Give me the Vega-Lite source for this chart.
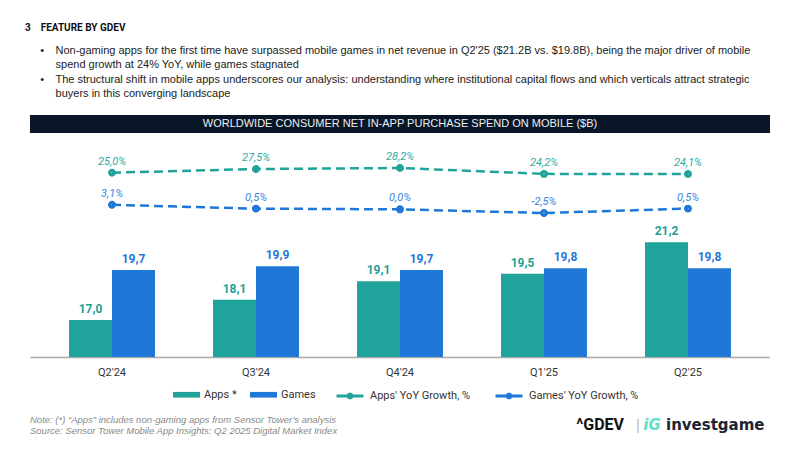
{
  "$schema": "https://vega.github.io/schema/vega-lite/v6.json",
  "background": "white",
  "padding": {"left": 25, "top": 23, "right": 0, "bottom": 0},
  "config": {
    "view": {"stroke": null},
    "locale": {"number": {"decimal": ",", "thousands": ".", "grouping": [3], "currency": ["", " €"], "minus": "-"}}
  },
  "title": {
    "text": "3\u00a0\u00a0\u00a0\u00a0FEATURE BY GDEV",
    "subtitle": [
      "\u200b\u00a0\u00a0\u00a0\u00a0\u00a0•\u00a0\u00a0\u00a0\u2009Non-gaming apps for the first time have surpassed mobile games in net revenue in Q2'25 ($21.2B vs. $19.8B), being the major driver of mobile",
      "\u200b\u00a0\u00a0\u00a0\u00a0\u00a0\u00a0\u00a0\u00a0\u00a0\u00a0spend growth at 24% YoY, while games stagnated",
      "\u200b\u00a0\u00a0\u00a0\u00a0\u00a0•\u00a0\u00a0\u00a0\u2009The structural shift in mobile apps underscores our analysis: understanding where institutional capital flows and which verticals attract strategic",
      "\u200b\u00a0\u00a0\u00a0\u00a0\u00a0\u00a0\u00a0\u00a0\u00a0\u00a0buyers in this converging landscape"
    ],
    "anchor": "start",
    "dx": -5,
    "font": "Roboto",
    "fontSize": 10,
    "fontWeight": "bold",
    "color": "#111111",
    "subtitleFont": "Liberation Sans, Arial, sans-serif",
    "subtitleFontSize": 11,
    "subtitleColor": "#222222",
    "subtitleLineHeight": 14.3,
    "subtitlePadding": 12,
    "offset": 16
  },
  "resolve": {"scale": {"color": "independent", "fill": "independent", "stroke": "independent"}, "legend": {"color": "independent", "fill": "independent", "stroke": "independent"}},
  "spacing": 7,
  "datasets": {
    "bars": [
      {"quarter": "Q2'24", "series": "Apps *", "value": 17.0},
      {"quarter": "Q2'24", "series": "Games", "value": 19.7},
      {"quarter": "Q3'24", "series": "Apps *", "value": 18.1},
      {"quarter": "Q3'24", "series": "Games", "value": 19.9},
      {"quarter": "Q4'24", "series": "Apps *", "value": 19.1},
      {"quarter": "Q4'24", "series": "Games", "value": 19.7},
      {"quarter": "Q1'25", "series": "Apps *", "value": 19.5},
      {"quarter": "Q1'25", "series": "Games", "value": 19.8},
      {"quarter": "Q2'25", "series": "Apps *", "value": 21.2},
      {"quarter": "Q2'25", "series": "Games", "value": 19.8}
    ],
    "growth": [
      {"quarter": "Q2'24", "series": "Apps' YoY Growth, %", "growth": 0.250},
      {"quarter": "Q3'24", "series": "Apps' YoY Growth, %", "growth": 0.275},
      {"quarter": "Q4'24", "series": "Apps' YoY Growth, %", "growth": 0.282},
      {"quarter": "Q1'25", "series": "Apps' YoY Growth, %", "growth": 0.242},
      {"quarter": "Q2'25", "series": "Apps' YoY Growth, %", "growth": 0.241},
      {"quarter": "Q2'24", "series": "Games' YoY Growth, %", "growth": 0.031},
      {"quarter": "Q3'24", "series": "Games' YoY Growth, %", "growth": 0.005},
      {"quarter": "Q4'24", "series": "Games' YoY Growth, %", "growth": 0.000},
      {"quarter": "Q1'25", "series": "Games' YoY Growth, %", "growth": -0.025},
      {"quarter": "Q2'25", "series": "Games' YoY Growth, %", "growth": 0.005}
    ]
  },
  "vconcat": [
    {
      "width": 740,
      "height": 18,
      "view": {"fill": "#081628", "stroke": null},
      "data": {"values": [{"label": "WORLDWIDE CONSUMER NET IN-APP PURCHASE SPEND ON MOBILE ($B)"}]},
      "mark": {"type": "text", "color": "#eeeeee", "font": "Liberation Sans, Arial, sans-serif", "fontSize": 11, "baseline": "middle", "align": "center"},
      "encoding": {"text": {"field": "label"}}
    },
    {
      "width": 740,
      "height": 217,
      "encoding": {
        "x": {
          "field": "quarter", "type": "nominal", "sort": null, "title": null,
          "scale": {"domain": ["Q2'24", "Q3'24", "Q4'24", "Q1'25", "Q2'25"], "paddingInner": 0.403, "paddingOuter": 0.271},
          "axis": {"labelFont": "Roboto", "labelFontSize": 11, "labelColor": "#333333", "labelAngle": 0, "ticks": false, "tickSize": 0, "labelPadding": 9, "domainColor": "#aaaaaa", "domainWidth": 1.5, "grid": false}
        }
      },
      "resolve": {"scale": {"y": "independent"}},
      "layer": [
        {
          "data": {"name": "bars"},
          "mark": {"type": "bar"},
          "encoding": {
            "xOffset": {"field": "series", "type": "nominal", "scale": {"domain": ["Apps *", "Games"], "paddingInner": 0, "paddingOuter": 0}},
            "y": {"field": "value", "type": "quantitative", "scale": {"domain": [15, 26.73], "zero": false, "nice": false, "clamp": true}, "axis": null},
            "fill": {
              "field": "series", "type": "nominal",
              "scale": {"domain": ["Apps *", "Games"], "range": ["#20a39a", "#1f77d8"]},
              "legend": {
                "orient": "none", "legendX": 143, "legendY": 241, "direction": "horizontal", "title": null,
                "symbolType": "M-1,-0.21H1V0.21H-1Z", "symbolSize": 729, "symbolStrokeWidth": 0,
                "labelFont": "Roboto", "labelFontSize": 11, "labelColor": "#333333", "labelOffset": 4, "columnPadding": 13
              }
            }
          }
        },
        {
          "data": {"name": "bars"},
          "mark": {"type": "text", "font": "Roboto", "fontWeight": "bold", "fontSize": 12, "baseline": "bottom", "dy": -4},
          "encoding": {
            "xOffset": {"field": "series", "type": "nominal", "scale": {"domain": ["Apps *", "Games"], "paddingInner": 0, "paddingOuter": 0}},
            "y": {"field": "value", "type": "quantitative", "scale": {"domain": [15, 26.73], "zero": false, "nice": false, "clamp": true}, "axis": null},
            "text": {"field": "value", "type": "quantitative", "format": ".1f"},
            "color": {"field": "series", "type": "nominal", "legend": null, "scale": {"domain": ["Apps *", "Games", "Apps' YoY Growth, %", "Games' YoY Growth, %"], "range": ["#1f9f96", "#1f77d8", "#2faaa0", "#3585df"]}}
          }
        },
        {
          "data": {"name": "growth"},
          "mark": {"type": "line", "strokeWidth": 2.5, "strokeDash": [9, 5]},
          "encoding": {
            "y": {"field": "growth", "type": "quantitative", "scale": {"domain": [-1.007, 0.473], "zero": false, "nice": false}, "axis": null},
            "stroke": {
              "field": "series", "type": "nominal",
              "scale": {"domain": ["Apps' YoY Growth, %", "Games' YoY Growth, %"], "range": ["#20a39a", "#1f77d8"]},
              "legend": {
                "orient": "none", "legendX": 305, "legendY": 241, "direction": "horizontal", "title": null,
                "symbolType": "M-1,0H1M0.14,0L0.099,0.099L0,0.14L-0.099,0.099L-0.14,0L-0.099,-0.099L0,-0.14L0.099,-0.099Z",
                "symbolSize": 729, "symbolStrokeWidth": 3, "symbolDash": [],
                "labelFont": "Roboto", "labelFontSize": 11, "labelColor": "#333333", "labelOffset": 5, "columnPadding": 19
              }
            }
          }
        },
        {
          "data": {"name": "growth"},
          "mark": {"type": "point", "filled": false, "size": 12, "strokeWidth": 4.5, "opacity": 1},
          "encoding": {
            "y": {"field": "growth", "type": "quantitative", "scale": {"domain": [-1.007, 0.473], "zero": false, "nice": false}, "axis": null},
            "stroke": {
              "field": "series", "type": "nominal",
              "scale": {"domain": ["Apps' YoY Growth, %", "Games' YoY Growth, %"], "range": ["#20a39a", "#1f77d8"]},
              "legend": {
                "orient": "none", "legendX": 305, "legendY": 241, "direction": "horizontal", "title": null,
                "symbolType": "M-1,0H1M0.14,0L0.099,0.099L0,0.14L-0.099,0.099L-0.14,0L-0.099,-0.099L0,-0.14L0.099,-0.099Z",
                "symbolSize": 729, "symbolStrokeWidth": 3, "symbolDash": [],
                "labelFont": "Roboto", "labelFontSize": 11, "labelColor": "#333333", "labelOffset": 5, "columnPadding": 19
              }
            }
          }
        },
        {
          "data": {"name": "growth"},
          "mark": {"type": "text", "font": "Roboto", "fontStyle": "italic", "fontSize": 11, "baseline": "bottom", "dy": -6},
          "encoding": {
            "y": {"field": "growth", "type": "quantitative", "scale": {"domain": [-1.007, 0.473], "zero": false, "nice": false}, "axis": null},
            "text": {"field": "growth", "type": "quantitative", "format": ".1%"},
            "color": {"field": "series", "type": "nominal", "legend": null, "scale": {"domain": ["Apps *", "Games", "Apps' YoY Growth, %", "Games' YoY Growth, %"], "range": ["#1f9f96", "#1f77d8", "#2faaa0", "#3585df"]}}
          }
        }
      ]
    },
    {
      "spacing": 74,
      "bounds": "flush",
      "hconcat": [
        {
          "width": 520,
          "height": 1,
          "data": {"values": [{"t": ""}]},
          "mark": {"type": "text"},
          "encoding": {"text": {"field": "t"}},
          "title": {
            "text": "Note: (*) “Apps” includes non-gaming apps from Sensor Tower’s analysis",
            "subtitle": "Source: Sensor Tower Mobile App Insights: Q2 2025 Digital Market Index",
            "orient": "bottom",
            "anchor": "start",
            "offset": -8,
            "font": "Liberation Sans, Arial, sans-serif",
            "fontSize": 9.5,
            "fontStyle": "italic",
            "fontWeight": "normal",
            "color": "#8a8a8a",
            "subtitleFont": "Liberation Sans, Arial, sans-serif",
            "subtitleFontSize": 9.5,
            "subtitleFontStyle": "italic",
            "subtitleColor": "#8a8a8a",
            "subtitlePadding": 2
          }
        },
        {
          "width": 42,
          "height": 16,
          "encoding": {
            "x": {"field": "part", "type": "nominal", "sort": null, "axis": null, "scale": {"type": "point", "domain": ["^GDEV", "|", "iG", "investgame"], "padding": 0}},
            "text": {"field": "part"}
          },
          "layer": [
            {
              "data": {"values": [{"part": "^GDEV"}]},
              "mark": {"type": "text", "align": "right", "baseline": "middle", "font": "Roboto", "fontWeight": "bold", "fontSize": 16, "color": "#111111"}
            },
            {
              "data": {"values": [{"part": "|"}]},
              "mark": {"type": "text", "align": "center", "baseline": "middle", "font": "Liberation Sans, sans-serif", "fontSize": 15, "color": "#bbbbbb"}
            },
            {
              "data": {"values": [{"part": "iG"}]},
              "mark": {"type": "text", "align": "center", "baseline": "middle", "font": "DejaVu Sans, sans-serif", "fontStyle": "italic", "fontWeight": "bold", "fontSize": 15, "color": "#5fe0c4"}
            },
            {
              "data": {"values": [{"part": "investgame"}]},
              "mark": {"type": "text", "align": "left", "baseline": "middle", "font": "DejaVu Sans, sans-serif", "fontWeight": "bold", "fontSize": 15, "color": "#1c2333"}
            }
          ]
        }
      ]
    }
  ]
}
